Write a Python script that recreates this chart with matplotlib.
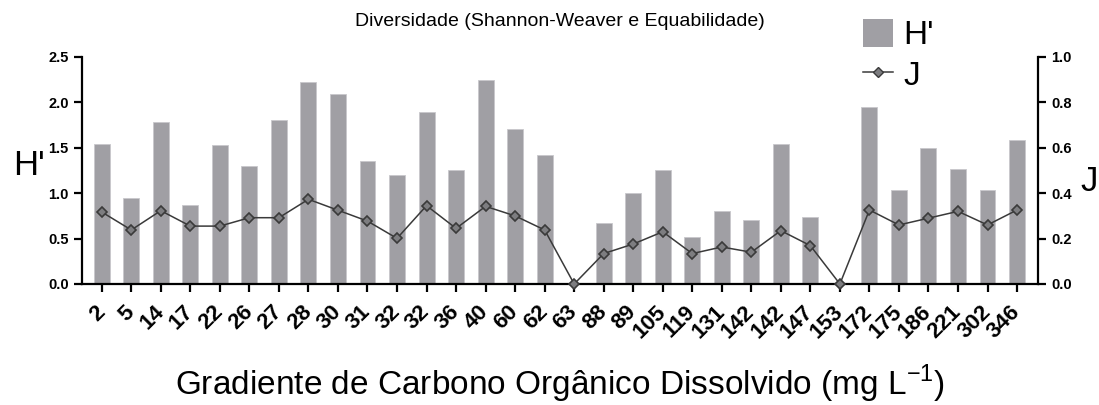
import matplotlib
matplotlib.use("Agg")
import matplotlib.pyplot as plt
from matplotlib.patches import Patch
from matplotlib.lines import Line2D
import numpy as np

plt.rcParams['font.family'] = ['Liberation Sans', 'DejaVu Sans']
plt.rcParams['mathtext.fontset'] = 'custom'
plt.rcParams['mathtext.rm'] = 'Liberation Sans'

categories = ["2", "5", "14", "17", "22", "26", "27", "28", "30", "31", "32", "32",
              "36", "40", "60", "62", "63", "88", "89", "105", "119", "131", "142",
              "142", "147", "153", "172", "175", "186", "221", "302", "346"]
h_values = [1.54, 0.95, 1.78, 0.87, 1.53, 1.30, 1.81, 2.22, 2.09, 1.35, 1.20, 1.89,
            1.26, 2.25, 1.71, 1.42, 0.0, 0.67, 1.00, 1.26, 0.52, 0.80, 0.71,
            1.54, 0.74, 0.0, 1.95, 1.04, 1.50, 1.27, 1.03, 1.59]
j_values = [0.317, 0.238, 0.323, 0.255, 0.255, 0.292, 0.292, 0.373, 0.325, 0.277, 0.201, 0.345,
            0.245, 0.342, 0.300, 0.238, 0.0, 0.134, 0.176, 0.230, 0.134, 0.163, 0.140,
            0.235, 0.169, 0.0, 0.326, 0.260, 0.290, 0.320, 0.260, 0.326]
h_ticks = [0.0, 0.5, 1.0, 1.5, 2.0, 2.5]
j_ticks = [0.0, 0.2, 0.4, 0.6, 0.8, 1.0]

bar_color = '#A09FA4'
line_color = '#3a3a3a'
marker_face = '#7d7d80'

fig = plt.figure(figsize=(10.99, 4.05), dpi=100)
ax = fig.add_axes([0.0746, 0.2988, 0.8699, 0.5605])
x = np.arange(len(categories))
ax.bar(x, h_values, width=0.54, color=bar_color, edgecolor='#c8c8cc', linewidth=0.6, zorder=2)
ax.set_xlim(-0.67, len(categories) - 1 + 0.71)
ax.set_ylim(0, 2.5)
ax.set_yticks(h_ticks)
ax.set_yticklabels([f"{v:.1f}" for v in h_ticks], fontsize=10.5, fontweight='bold')
ax.set_xticks(x)
ax.set_xticklabels(categories, rotation=45, ha='right', va='center', rotation_mode='anchor',
                   fontsize=16, fontweight='bold')
for s in ['top', 'right']:
    ax.spines[s].set_visible(False)
for s in ['left', 'bottom']:
    ax.spines[s].set_linewidth(1.6)
ax.tick_params(axis='both', width=1.6, length=6, direction='out')
ax.tick_params(axis='x', pad=12)
ax.set_ylabel("H'", rotation=0, fontsize=25, va='center', ha='center')
ax.yaxis.set_label_coords(-0.056, 0.52)
ax.set_xlabel("Gradiente de Carbono Orgânico Dissolvido (mg L$^{\\mathregular{-1}}$)", fontsize=24,
              va='top')
ax.xaxis.set_label_coords(0.5, -0.345)
ax.set_title("Diversidade (Shannon-Weaver e Equabilidade)", fontsize=14, pad=22)

ax2 = ax.twinx()
ax2.plot(x, j_values, color=line_color, linewidth=1.1, marker='D', markersize=5,
         markerfacecolor=marker_face, markeredgecolor=line_color, markeredgewidth=1.2,
         zorder=3, clip_on=False)
ax2.set_ylim(0, 1.0)
ax2.set_yticks(j_ticks)
ax2.set_yticklabels([f"{v:.1f}" for v in j_ticks], fontsize=10.5, fontweight='bold')
for s in ['top', 'left', 'bottom']:
    ax2.spines[s].set_visible(False)
ax2.spines['right'].set_linewidth(1.6)
ax2.tick_params(axis='y', width=1.6, length=6, direction='out')
ax2.set_ylabel("J", rotation=0, fontsize=25, va='center', ha='center')
ax2.yaxis.set_label_coords(1.053, 0.45)

handles = [Patch(facecolor=bar_color, edgecolor='none'),
           Line2D([0], [0], color=line_color, linewidth=1.1, marker='D', markersize=5,
                  markerfacecolor=marker_face, markeredgecolor=line_color)]
fig.legend(handles, ["H'", "J"], loc='upper left', bbox_to_anchor=(863 / 1099, 1 - 19 / 405),
           frameon=False, fontsize=24, handlelength=0.9, handleheight=0.9,
           handletextpad=0.3, labelspacing=0.25, borderpad=0, borderaxespad=0)

fig.savefig("out.png", dpi=100)
